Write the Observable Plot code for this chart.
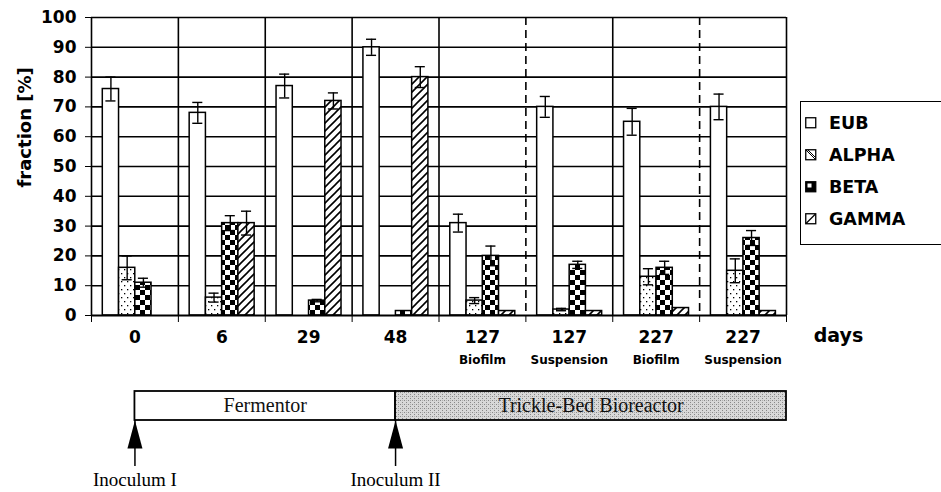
<!DOCTYPE html>
<html>
<head>
<meta charset="utf-8">
<script src="https://cdn.jsdelivr.net/npm/d3@7"></script>
<script src="https://cdn.jsdelivr.net/npm/@observablehq/plot@0.6"></script>
<style>
  body { margin: 0; background: #fff; }
  #wrap { position: relative; width: 941px; height: 492px; overflow: hidden; background: #fff; }
  #wrap > svg { display: block; }
  #legend { position: absolute; left: 800px; top: 101px; width: 141px; height: 144px;
            border: 1.5px solid #000; border-right: none; box-sizing: border-box; background: #fff; }
  .item { position: absolute; left: 4px; height: 22px; display: flex; align-items: center;
          font: bold 17.5px "DejaVu Sans", sans-serif; color: #000; }
  .item svg { margin-right: 12px; display: block; }
</style>
</head>
<body>
<div id="wrap"></div>
<script>
// ---------- data ----------
const days       = ["0", "6", "29", "48", "127", "127", "227", "227"];
const conditions = ["", "", "", "", "Biofilm", "Suspension", "Biofilm", "Suspension"];
const seriesNames = ["EUB", "ALPHA", "BETA", "GAMMA"];
const eub      = [76, 68, 77, 90, 31, 70, 65, 70];
const eubErr   = [4, 3.5, 4, 2.7, 3, 3.5, 4.5, 4.3];
const alpha    = [16, 6, 0, 0, 5, 2, 13, 15];
const alphaErr = [4, 1.5, 0, 0, 1, 0.4, 2.7, 4];
const beta     = [11, 31, 5, 1.5, 20, 17, 16, 26];
const betaErr  = [1.5, 2.5, 0.4, 0, 3.3, 1.2, 2.2, 2.5];
const gamma    = [0, 31, 72, 80, 1.5, 1.5, 2.5, 1.5];
const gammaErr = [0, 4, 2.7, 3.5, 0, 0, 0, 0];
const yTicks   = [0, 10, 20, 30, 40, 50, 60, 70, 80, 90, 100];
const axisUnit = "days";
const yLabel   = "fraction [%]";
// timeline (start/end given as sample-group index; "end" 7.5 = right edge of the chart)
const phases  = [{label: "Fermentor", start: 0, end: 3}, {label: "Trickle-Bed Bioreactor", start: 3, end: 7.5}];
const inocula = [{label: "Inoculum I", at: 0}, {label: "Inoculum II", at: 3}];

// ---------- layout / style constants ----------
const GROUP_PAD = 0.13, BAR_W = 0.187, CAP = 0.058;
const FILL = {EUB: "#fff", ALPHA: "url(#pat-dots)", BETA: "url(#pat-check)", GAMMA: "url(#pat-hatch)"};

const valueArrays = {EUB: [eub, eubErr], ALPHA: [alpha, alphaErr], BETA: [beta, betaErr], GAMMA: [gamma, gammaErr]};
const rows = [];
seriesNames.forEach((name, s) => {
  const [v, e] = valueArrays[name];
  days.forEach((d, g) => rows.push({g, s, series: name, value: v[g], err: e[g]}));
});
const left = d => d.g + GROUP_PAD + d.s * BAR_W;
const mid = d => left(d) + BAR_W / 2;
const errRows = rows.filter(d => d.value > 0 && d.err > 0);

const edges = d3.range(0, days.length + 1);
const dashedEdges = edges.filter(i => i > 0 && i < days.length && days[i - 1] === days[i]);
const solidEdges = edges.filter(i => !dashedEdges.includes(i));

const chart = Plot.plot({
  width: 941, height: 380,
  marginLeft: 91, marginRight: 155, marginTop: 17, marginBottom: 65,
  style: {fontFamily: "'DejaVu Sans', sans-serif", fontWeight: "bold", fontSize: "17px", color: "#000", background: "#fff"},
  x: {domain: [0, days.length], ticks: days.length, tickSize: 7, tickFormat: () => "", label: null},
  y: {domain: [0, 100], ticks: yTicks, tickSize: 6, tickPadding: 9, label: null},
  marks: [
    Plot.ruleY(yTicks.filter(t => t > 0), {stroke: "#000", strokeWidth: 1.6}),
    Plot.ruleX(solidEdges, {stroke: "#000", strokeWidth: 1.6}),
    Plot.ruleX(dashedEdges, {stroke: "#000", strokeWidth: 1.6, strokeDasharray: "8,5"}),
    ...seriesNames.map(name => Plot.rect(rows.filter(d => d.series === name && d.value > 0), {
      x1: left, x2: d => left(d) + BAR_W, y1: 0, y2: "value",
      fill: FILL[name], stroke: "#000", strokeWidth: 1.5
    })),
    Plot.ruleY([0], {stroke: "#000", strokeWidth: 2}),
    Plot.ruleX(errRows, {x: mid, y1: d => d.value - d.err, y2: d => d.value + d.err, stroke: "#000", strokeWidth: 1.4}),
    Plot.ruleY(errRows, {y: d => d.value + d.err, x1: d => mid(d) - CAP, x2: d => mid(d) + CAP, stroke: "#000", strokeWidth: 1.4}),
    Plot.ruleY(errRows, {y: d => d.value - d.err, x1: d => mid(d) - CAP, x2: d => mid(d) + CAP, stroke: "#000", strokeWidth: 1.4}),
    Plot.text(days, {x: (d, i) => i + 0.5, frameAnchor: "bottom", dy: 27, fontSize: 17}),
    Plot.text(conditions, {x: (d, i) => i + 0.5, frameAnchor: "bottom", dy: 48, fontSize: 12}),
    Plot.text([axisUnit], {x: () => days.length, frameAnchor: "bottom", dx: 52, dy: 26, fontSize: 19}),
    Plot.text([yLabel], {frameAnchor: "left", dx: -66, dy: 21, rotate: -90, fontSize: 18})
  ]
});
d3.select(chart).insert("defs", ":first-child").html(`
  <pattern id="pat-dots" patternUnits="userSpaceOnUse" width="6" height="8">
    <rect width="6" height="8" fill="#fff"/><rect x="1" y="1" width="1.3" height="1.3" fill="#000"/><rect x="4" y="5" width="1.3" height="1.3" fill="#000"/>
  </pattern>
  <pattern id="pat-check" patternUnits="userSpaceOnUse" width="10" height="10">
    <rect width="10" height="10" fill="#fff"/><rect width="5" height="5" fill="#000"/><rect x="5" y="5" width="5" height="5" fill="#000"/>
  </pattern>
  <pattern id="pat-hatch" patternUnits="userSpaceOnUse" width="8" height="8">
    <rect width="8" height="8" fill="#fff"/>
    <path d="M0,8 L8,0 M-2,2 L2,-2 M6,10 L10,6" stroke="#000" stroke-width="1.6"/>
  </pattern>`);

// ---------- timeline ----------
const BOX_TOP = 11, BOX_BOTTOM = 40, HEAD_Y = 54, ARROW_END = 86, LABEL_Y = 99;
const headSymbol = {draw(ctx, size) { const r = Math.sqrt(size / Math.PI);
  ctx.moveTo(0, -1.4 * r); ctx.lineTo(0.75 * r, 1.4 * r); ctx.lineTo(-0.75 * r, 1.4 * r); ctx.closePath(); }};
const serif = "'Liberation Serif', 'Times New Roman', serif";
const timeline = Plot.plot({
  width: 941, height: 112,
  marginLeft: 91, marginRight: 155, marginTop: 0, marginBottom: 0,
  style: {background: "#fff", color: "#000"},
  x: {domain: [0, days.length], axis: null},
  y: {domain: [0, 112], range: [0, 112], axis: null},
  marks: [
    Plot.rect(phases.slice(0, 1), {x1: d => d.start + 0.5, x2: d => d.end + 0.5, y1: BOX_TOP, y2: BOX_BOTTOM, fill: "#fff", stroke: "#000", strokeWidth: 1.8}),
    Plot.rect(phases.slice(1), {x1: d => d.start + 0.5, x2: d => d.end + 0.5, y1: BOX_TOP, y2: BOX_BOTTOM, fill: "url(#pat-stipple)", stroke: "#000", strokeWidth: 1.8}),
    Plot.text(phases, {x: d => (d.start + d.end) / 2 + 0.5, y: (BOX_TOP + BOX_BOTTOM) / 2, text: "label", fontFamily: serif, fontSize: 20, fill: "#111"}),
    Plot.ruleX(inocula, {x: d => d.at + 0.5, y1: BOX_BOTTOM, y2: ARROW_END, stroke: "#000", strokeWidth: 1.5}),
    Plot.dot(inocula, {x: d => d.at + 0.5, y: HEAD_Y, r: 10, symbol: headSymbol, fill: "#000", stroke: "none"}),
    Plot.text(inocula, {x: d => d.at + 0.5, y: LABEL_Y, text: "label", fontFamily: serif, fontSize: 19, fill: "#000"})
  ]
});
d3.select(timeline).insert("defs", ":first-child").html(`
  <pattern id="pat-stipple" patternUnits="userSpaceOnUse" width="4" height="4">
    <rect width="4" height="4" fill="#d8d8d8"/><rect x="0" y="0" width="1" height="1" fill="#888"/><rect x="2" y="2" width="1" height="1" fill="#888"/><rect x="2" y="0" width="1" height="1" fill="#b0b0b0"/>
  </pattern>`);

const wrap = document.getElementById("wrap");
wrap.appendChild(chart);
wrap.appendChild(timeline);

// ---------- legend ----------
const swatches = {
  EUB: `<rect x="0.75" y="0.75" width="10" height="10" fill="#fff" stroke="#000" stroke-width="1.3"/>`,
  ALPHA: `<rect x="0.75" y="0.75" width="10" height="10" fill="#fff" stroke="#000" stroke-width="1.3"/><path d="M1,1 L10.5,10.5 M3,1 L10.5,8.5" stroke="#000" stroke-width="1"/>`,
  BETA: `<rect x="0.75" y="0.75" width="10" height="10" fill="#000" stroke="#000" stroke-width="1.3"/><rect x="2.5" y="2.5" width="4" height="4" fill="#fff"/>`,
  GAMMA: `<rect x="0.75" y="0.75" width="10" height="10" fill="#fff" stroke="#000" stroke-width="1.3"/><path d="M1,10.5 L10.5,1" stroke="#000" stroke-width="1.3"/>`
};
const legend = document.createElement("div");
legend.id = "legend";
seriesNames.forEach((name, i) => {
  const it = document.createElement("div");
  it.className = "item";
  it.style.top = (10 + i * 32) + "px";
  it.innerHTML = `<svg width="12" height="12">${swatches[name]}</svg><span>${name}</span>`;
  legend.appendChild(it);
});
wrap.appendChild(legend);
</script>
</body>
</html>
